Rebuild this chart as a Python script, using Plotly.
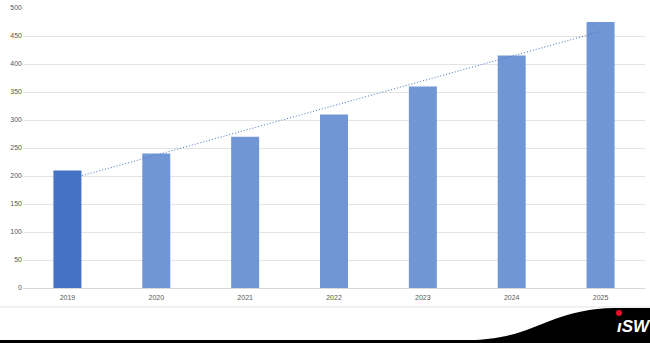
import numpy as np
import plotly.graph_objects as go

years = [2019, 2020, 2021, 2022, 2023, 2024, 2025]
values = [210, 240, 270, 310, 360, 415, 475]
bar_colors = ["#4472C4"] + ["#7096D5"] * 6
y_ticks = [0, 50, 100, 150, 200, 250, 300, 350, 400, 450, 500]

W, H = 650, 343
L, R, T, B = 23, 5, 8, 55
pw, ph = W - L - R, H - T - B

def px(x):
    return (x - L) / pw

def py(y):
    return (H - B - y) / ph

# linear trend computed from the bar values
coef = np.polyfit(np.arange(len(values)), values, 1)
trend = np.polyval(coef, np.arange(len(values)))

fig = go.Figure()
fig.add_trace(go.Bar(x=years, y=values, marker=dict(color=bar_colors, line=dict(width=0)),
                     width=0.315, showlegend=False))
fig.add_trace(go.Scatter(x=[years[0], years[-1]], y=[trend[0], trend[-1]], mode="lines",
                         line=dict(color="#4472C4", width=1, dash="1px,2px"), showlegend=False))

path = f"M {px(0)} {py(340)} L {px(475)} {py(340)} " \
       f"C {px(535)} {py(338)}, {px(550)} {py(309)}, {px(615)} {py(308)} " \
       f"L {px(650)} {py(308)} L {px(650)} {py(345)} L {px(0)} {py(345)} Z"

shapes = [
    dict(type="line", xref="paper", yref="paper", x0=px(0), x1=px(650), y0=py(307), y1=py(307),
         line=dict(color="#E4E4E4", width=1), layer="below"),
    dict(type="path", xref="paper", yref="paper", path=path, fillcolor="black",
         line=dict(width=0)),
    dict(type="circle", xref="paper", yref="paper", x0=px(616), x1=px(622), y0=py(310), y1=py(316),
         fillcolor="#E8102A", line=dict(width=0)),
]

fig.update_layout(
    width=W, height=H,
    margin=dict(l=L, r=R, t=T, b=B),
    plot_bgcolor="white", paper_bgcolor="white",
    font=dict(family="Liberation Sans, Arial", size=7, color="#595959"),
    shapes=shapes,
    annotations=[dict(text="<b><i>ıSW</i></b>", xref="paper", yref="paper", x=px(615), y=py(326),
                      showarrow=False, font=dict(family="Liberation Sans, Arial", size=17, color="white"),
                      xanchor="left", yanchor="middle")],
    xaxis=dict(range=[2018.5, 2025.5], tickvals=years, ticktext=[str(y) for y in years],
               showgrid=False, showline=True, linecolor="#D9D9D9", linewidth=1, ticks="",
               ticklabelstandoff=3,
               zeroline=False, tickfont=dict(size=7, color="#595959")),
    yaxis=dict(range=[0, 500], tickvals=y_ticks, showgrid=True, gridcolor="#E4E4E4", gridwidth=1,
               zeroline=False, showline=False, ticks="", tickfont=dict(size=7, color="#595959")),
)

fig.write_html("out.html")
